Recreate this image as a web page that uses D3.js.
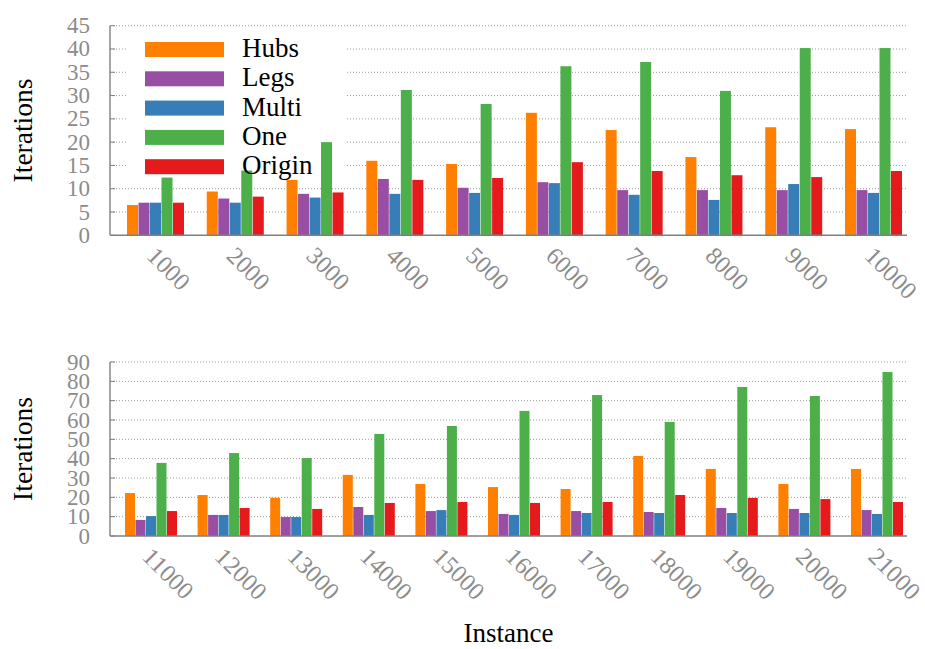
<!DOCTYPE html>
<html>
<head>
<meta charset="utf-8">
<script src="https://cdn.jsdelivr.net/npm/d3@7"></script>
<style>
  html, body { margin: 0; padding: 0; background: #fff; }
  svg { display: block; }
</style>
</head>
<body>
<svg id="chart" width="925" height="649"></svg>
<script>
// Iterations per instance, two panels of grouped bars.
const seriesNames = ["Hubs", "Legs", "Multi", "One", "Origin"];
const seriesColors = ["#ff7f00", "#984ea3", "#377eb8", "#4daf4a", "#e41a1c"];

const categoriesTop = ["1000", "2000", "3000", "4000", "5000", "6000", "7000", "8000", "9000", "10000"];
const hubsTop   = [6.5, 9.4, 11.9, 16.0, 15.3, 26.3, 22.6, 16.8, 23.2, 22.8];
const legsTop   = [7.0, 7.9, 8.9, 12.1, 10.2, 11.4, 9.7, 9.7, 9.7, 9.7];
const multiTop  = [7.0, 7.0, 8.1, 8.9, 9.1, 11.2, 8.7, 7.6, 11.0, 9.1];
const oneTop    = [12.4, 13.9, 20.0, 31.2, 28.2, 36.3, 37.2, 31.0, 40.2, 40.2];
const originTop = [7.0, 8.3, 9.2, 11.9, 12.3, 15.7, 13.8, 12.9, 12.5, 13.8];
const yTicksTop = [0, 5, 10, 15, 20, 25, 30, 35, 40, 45];

const categoriesBottom = ["11000", "12000", "13000", "14000", "15000", "16000", "17000", "18000", "19000", "20000", "21000"];
const hubsBottom   = [22.2, 21.2, 19.8, 31.6, 26.9, 25.3, 24.3, 41.4, 34.7, 26.9, 34.7];
const legsBottom   = [8.3, 10.9, 9.8, 15.0, 12.9, 11.4, 12.9, 12.4, 14.5, 14.0, 13.4];
const multiBottom  = [10.3, 10.9, 9.8, 10.9, 13.4, 10.9, 11.9, 11.9, 11.9, 11.9, 11.4];
const oneBottom    = [37.8, 42.9, 40.3, 52.8, 56.9, 64.7, 72.9, 59.0, 77.1, 72.4, 84.8];
const originBottom = [12.9, 14.5, 14.0, 17.1, 17.6, 17.1, 17.6, 21.2, 19.7, 19.1, 17.6];
const yTicksBottom = [0, 10, 20, 30, 40, 50, 60, 70, 80, 90];

const FONT = "'Liberation Serif', 'DejaVu Serif', serif";
const GRAY = "#8c8c8c";

const svg = d3.select("#chart");

function panel(opts) {
  const { categories, series, yTicks, top, bottom, left, right, padL, padR, slot, barW, legend } = opts;
  const g = svg.append("g");
  const yMax = yTicks[yTicks.length - 1];
  const y = d3.scaleLinear().domain([0, yMax]).range([bottom, top]);
  const x = d3.scalePoint().domain(categories).range([left + padL, right - padR]);
  const inner = d3.scaleBand().domain(seriesNames)
    .range([-slot * seriesNames.length / 2, slot * seriesNames.length / 2]);

  // dotted horizontal grid
  g.append("g").selectAll("line").data(yTicks.filter(t => t > 0)).join("line")
    .attr("x1", left).attr("x2", right)
    .attr("y1", d => y(d)).attr("y2", d => y(d))
    .attr("stroke", "#9a9a9a").attr("stroke-width", 1)
    .attr("stroke-dasharray", "1,2");

  // small inward tick marks on the y axis
  g.append("g").selectAll("line").data(yTicks).join("line")
    .attr("x1", left).attr("x2", left + 5)
    .attr("y1", d => y(d)).attr("y2", d => y(d))
    .attr("stroke", "#808080").attr("stroke-width", 1);

  // legend background hides the grid behind it
  if (legend) {
    g.append("rect")
      .attr("x", legend.x0).attr("y", legend.y0)
      .attr("width", legend.x1 - legend.x0).attr("height", legend.y1 - legend.y0)
      .attr("fill", "#fff");
  }

  // x tick marks at group centres (sit behind the bars)
  g.append("g").selectAll("line").data(categories).join("line")
    .attr("x1", d => x(d)).attr("x2", d => x(d))
    .attr("y1", bottom).attr("y2", bottom - 6)
    .attr("stroke", "#9a9a9a").attr("stroke-width", 1);

  // bars
  const rows = [];
  categories.forEach((c, i) => {
    series.forEach((vals, s) => rows.push({ cat: c, name: seriesNames[s], color: seriesColors[s], v: vals[i] }));
  });
  g.append("g").selectAll("rect").data(rows).join("rect")
    .attr("x", d => x(d.cat) + inner(d.name) + (slot - barW) / 2)
    .attr("width", barW)
    .attr("y", d => y(d.v))
    .attr("height", d => y(0) - y(d.v))
    .attr("fill", d => d.color);

  // axis lines
  g.append("line").attr("x1", left).attr("x2", left).attr("y1", y(0)).attr("y2", y(yMax))
    .attr("stroke", "#808080").attr("stroke-width", 1.4);
  g.append("line").attr("x1", left).attr("x2", right).attr("y1", y(0)).attr("y2", y(0))
    .attr("stroke", "#808080").attr("stroke-width", 1.4);

  // y tick labels
  g.append("g").selectAll("text").data(yTicks).join("text")
    .attr("x", left - 20).attr("y", d => y(d) + 7.5)
    .attr("text-anchor", "end")
    .attr("font-family", FONT).attr("font-size", 23)
    .attr("fill", GRAY)
    .text(d => d);

  // rotated x tick labels
  g.append("g").selectAll("text").data(categories).join("text")
    .attr("transform", d => `translate(${x(d) - 10},${bottom + 22}) rotate(45)`)
    .attr("font-family", FONT).attr("font-size", 24.5)
    .attr("fill", GRAY)
    .text(d => d);

  // y axis title
  g.append("text")
    .attr("transform", `translate(32,${(top + bottom) / 2}) rotate(-90)`)
    .attr("text-anchor", "middle")
    .attr("font-family", FONT).attr("font-size", 27.5)
    .attr("fill", "#000")
    .text("Iterations");

  // legend entries
  if (legend) {
    const lg = g.append("g").selectAll("g").data(seriesNames).join("g")
      .attr("transform", (d, i) => `translate(${legend.sx},${legend.sy + i * legend.step})`);
    lg.append("rect").attr("x", 0).attr("y", 0).attr("width", 79).attr("height", 15)
      .attr("fill", (d, i) => seriesColors[i]);
    lg.append("text").attr("x", 97).attr("y", 15)
      .attr("font-family", FONT).attr("font-size", 27)
      .attr("fill", "#000")
      .text(d => d);
  }
  return { x, y };
}

panel({
  categories: categoriesTop,
  series: [hubsTop, legsTop, multiTop, oneTop, originTop],
  yTicks: yTicksTop,
  top: 25.7, bottom: 235.3, left: 110, right: 907,
  padL: 45.5, padR: 33.5, slot: 11.5, barW: 11,
  legend: { x0: 127, y0: 29, x1: 347, y1: 180, sx: 145, sy: 42, step: 29.3 }
});

panel({
  categories: categoriesBottom,
  series: [hubsBottom, legsBottom, multiBottom, oneBottom, originBottom],
  yTicks: yTicksBottom,
  top: 362, bottom: 536, left: 110, right: 907,
  padL: 41, padR: 30, slot: 10.5, barW: 10,
  legend: null
});

// shared x axis title
svg.append("text")
  .attr("x", 508.5).attr("y", 642)
  .attr("text-anchor", "middle")
  .attr("font-family", FONT).attr("font-size", 27)
  .attr("fill", "#000")
  .text("Instance");
</script>
</body>
</html>
